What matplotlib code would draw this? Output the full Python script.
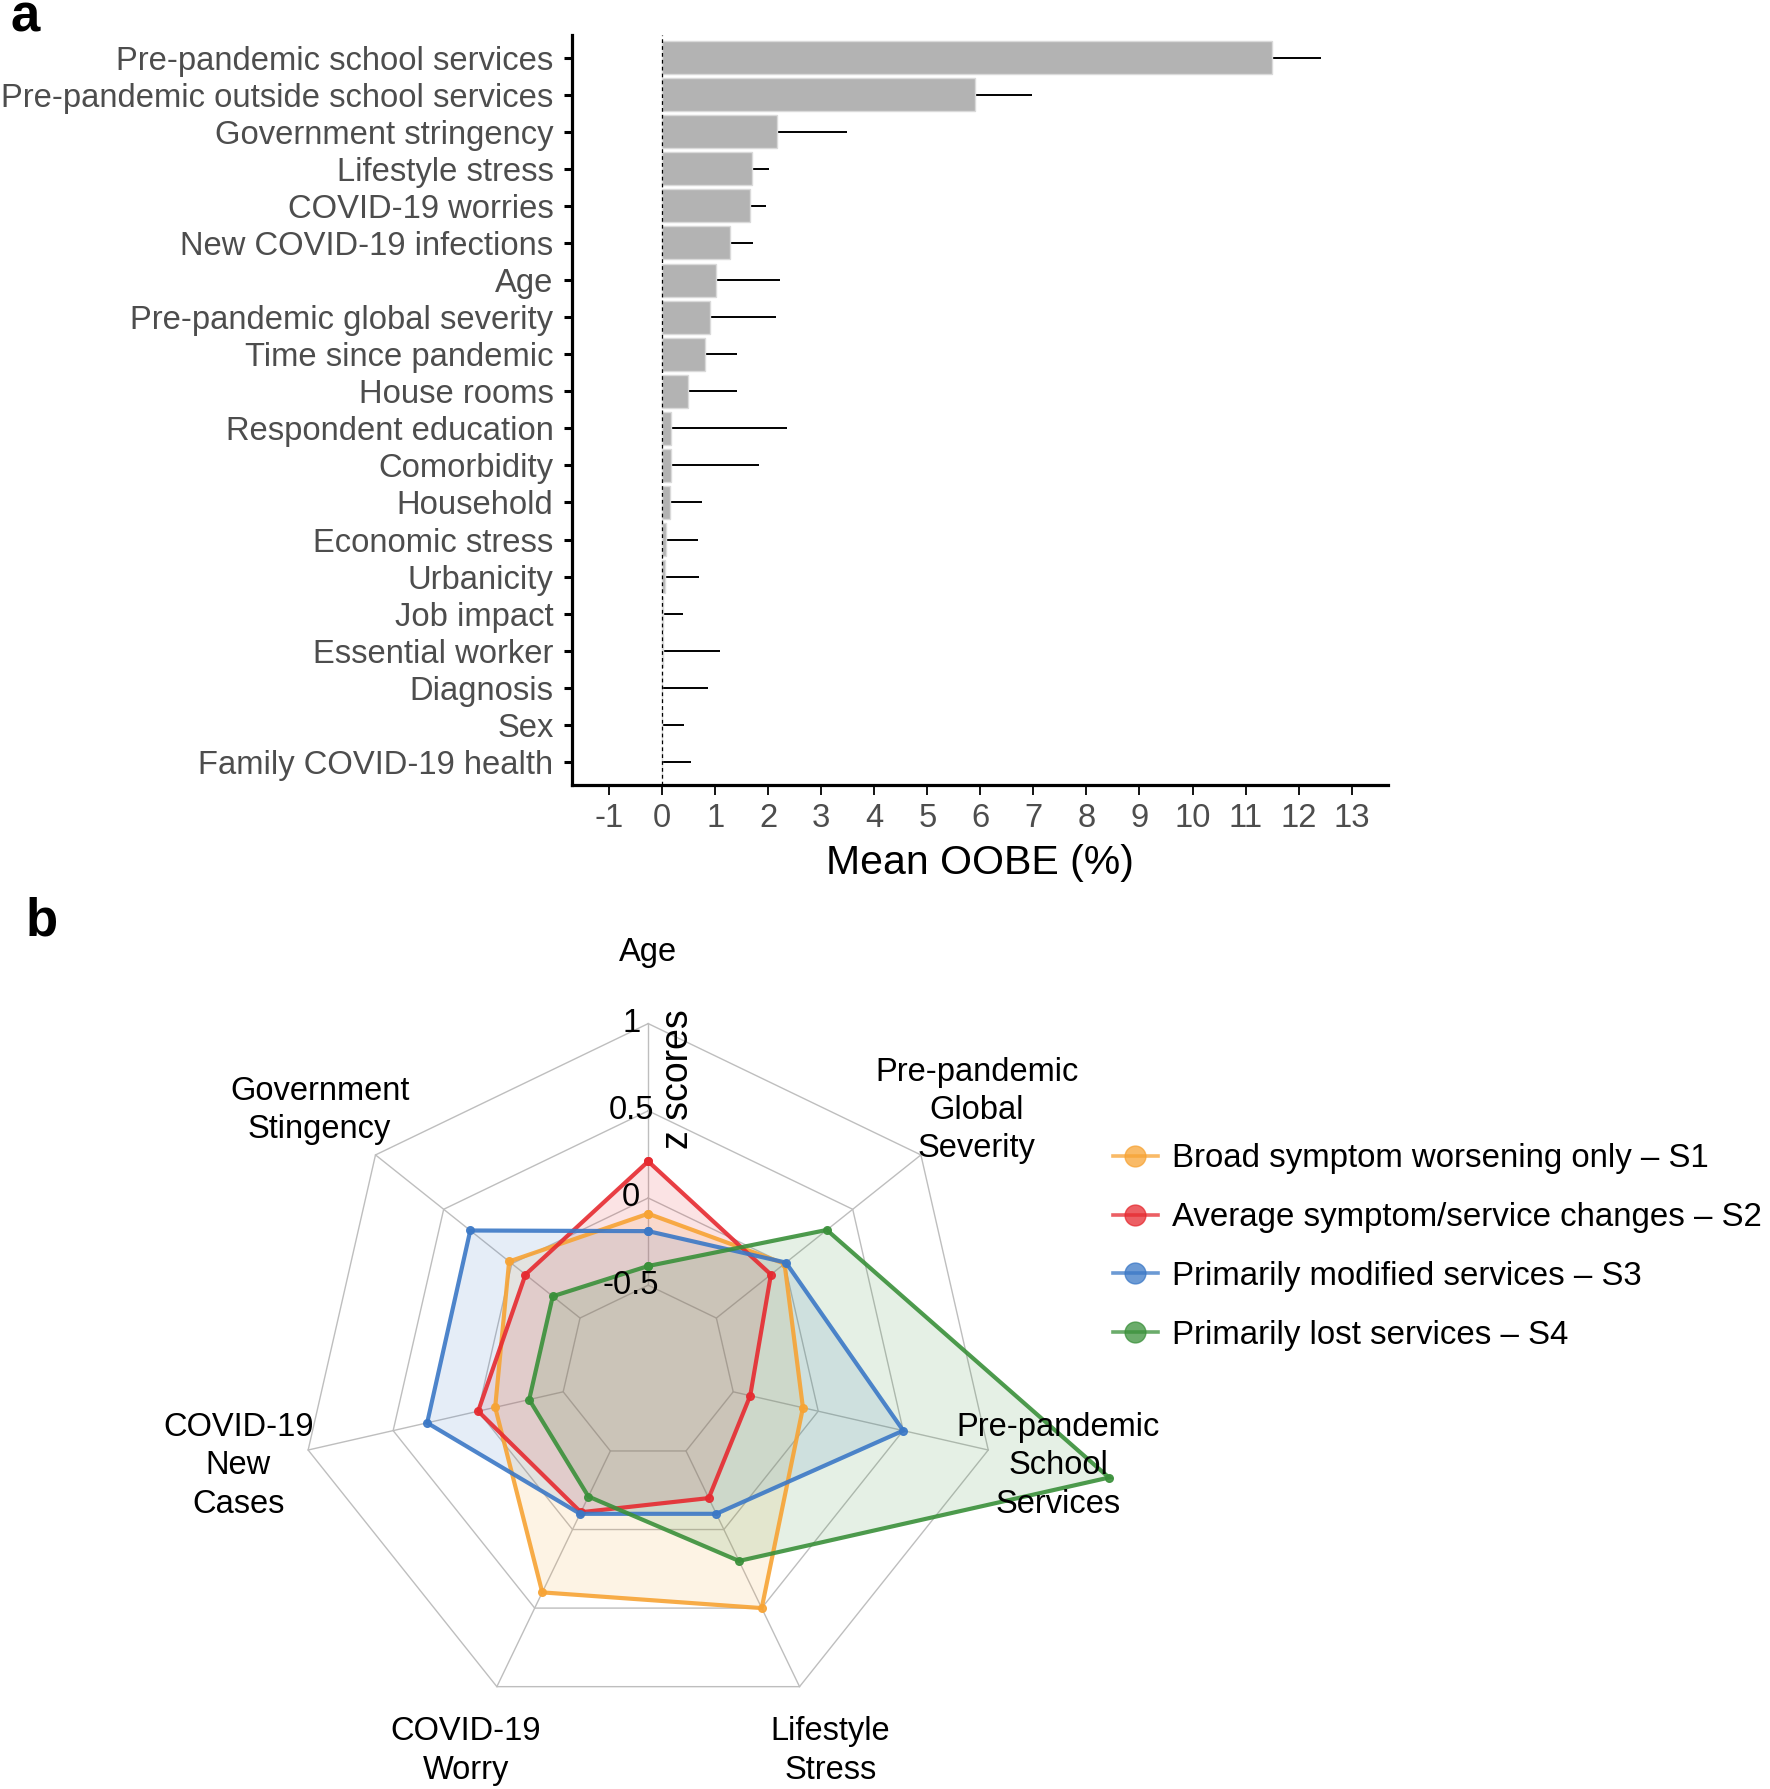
import numpy as np
import matplotlib
matplotlib.use("Agg")
import matplotlib.pyplot as plt
from matplotlib.lines import Line2D
from matplotlib.transforms import offset_copy

plt.rcParams['font.family'] = ['Liberation Sans', 'DejaVu Sans']

# ---------------- Panel a data ----------------
predictors = [
    "Pre-pandemic school services", "Pre-pandemic outside school services",
    "Government stringency", "Lifestyle stress", "COVID-19 worries",
    "New COVID-19 infections", "Age", "Pre-pandemic global severity",
    "Time since pandemic", "House rooms", "Respondent education",
    "Comorbidity", "Household", "Economic stress", "Urbanicity",
    "Job impact", "Essential worker", "Diagnosis", "Sex",
    "Family COVID-19 health",
]
mean_oobe = [11.49, 5.89, 2.16, 1.70, 1.66, 1.27, 1.01, 0.91, 0.80, 0.48,
             0.16, 0.16, 0.15, 0.07, 0.06, 0.02, 0.01, 0.00, 0.00, 0.00]
oobe_err = [0.94, 1.08, 1.32, 0.31, 0.30, 0.45, 1.21, 1.23, 0.61, 0.93,
            2.20, 1.67, 0.60, 0.61, 0.64, 0.37, 1.08, 0.86, 0.41, 0.54]
x_ticks = list(range(-1, 14))

# ---------------- Panel b data ----------------
radar_axes = ["Age", "Pre-pandemic\nGlobal\nSeverity", "Pre-pandemic\nSchool\nServices",
              "Lifestyle\nStress", "COVID-19\nWorry", "COVID-19\nNew\nCases",
              "Government\nStingency"]
s1 = [-0.09, 0.00, -0.09, 0.50, 0.40, -0.10, 0.02]
s2 = [0.21, -0.10, -0.40, -0.20, -0.11, 0.00, -0.10]
s3 = [-0.19, 0.01, 0.50, -0.10, -0.10, 0.30, 0.305]
s4 = [-0.39, 0.31, 1.71, 0.20, -0.21, -0.30, -0.30]
series_names = ["Broad symptom worsening only \u2013 S1",
                "Average symptom/service changes \u2013 S2",
                "Primarily modified services \u2013 S3",
                "Primarily lost services \u2013 S4"]
series_colors = ["#F7A334", "#E62A30", "#3B78C6", "#3A903A"]
ring_levels = [-0.5, 0, 0.5, 1]
ring_labels = ["-0.5", "0", "0.5", "1"]

W, H = 1770, 1789
fig = plt.figure(figsize=(W / 100, H / 100), dpi=100)

# ---------------- Panel a ----------------
ax = fig.add_axes([571.5 / W, 1 - 785 / H, (1387.7 - 571.5) / W, (785 - 35) / H])
ypos = np.arange(len(predictors))
ax.errorbar(mean_oobe, ypos, xerr=[np.zeros(len(oobe_err)), oobe_err], fmt='none',
            ecolor='black', elinewidth=1.4, capsize=0, zorder=2)
ax.barh(ypos, mean_oobe, height=0.89, color='#B3B3B3', edgecolor='#DADADA',
        linewidth=1.0, zorder=3)
ax.axvline(0, color='black', ls=(0, (3, 2.5)), lw=0.9, zorder=4)
ax.set_xlim(-1.71, 13.68)
ax.set_ylim(len(predictors) - 1 + 0.62, -0.61)
ax.set_yticks(ypos)
ax.set_yticklabels(predictors)
ax.set_xticks(x_ticks)
ax.set_xticklabels([str(v) for v in x_ticks])
ax.tick_params(axis='y', length=6, width=2.2, pad=7, labelsize=23.6, labelcolor='#4D4D4D',
               direction='out')
ax.tick_params(axis='x', length=7, width=1.3, pad=6, labelsize=23.6, labelcolor='#4D4D4D',
               direction='out')
for s in ['top', 'right']:
    ax.spines[s].set_visible(False)
for s in ['left', 'bottom']:
    ax.spines[s].set_linewidth(2.3)
    ax.spines[s].set_color('black')
ax.set_xlabel("Mean OOBE (%)", fontsize=29.5, color='black', labelpad=7)

# ---------------- Panel b (radar) ----------------
cx, cy = 648.2, 1372.4
unit = 174.4
rmin, rmax = -1.0, 1.75
rad = (rmax - rmin) * unit
rax = fig.add_axes([(cx - rad) / W, (H - cy - rad) / H, 2 * rad / W, 2 * rad / H],
                   projection='polar')
rax.set_theta_offset(np.pi / 2)
rax.set_theta_direction(-1)
rax.set_ylim(rmin, rmax)
rax.grid(False)
rax.set_xticks([])
rax.set_yticks([])
rax.spines['polar'].set_visible(False)
rax.patch.set_visible(False)

n = len(radar_axes)
theta = np.arange(n) * 2 * np.pi / n
theta_c = np.append(theta, theta[0])
grid_col = '#BEBEBE'
for lv in ring_levels:
    rax.plot(theta_c, [lv] * (n + 1), color=grid_col, lw=1.0, zorder=1)
for t in theta:
    rax.plot([t, t], [ring_levels[0], ring_levels[-1]], color=grid_col, lw=1.0, zorder=1)

for vals, col in zip([s1, s2, s3, s4], series_colors):
    v = np.append(vals, vals[0])
    rax.fill(theta_c, v, color=col, alpha=0.13, zorder=2, lw=0)
for vals, col in zip([s1, s2, s3, s4], series_colors):
    v = np.append(vals, vals[0])
    rax.plot(theta_c, v, color=col, lw=3.0, alpha=0.9, zorder=3,
             marker='o', markersize=5.5, solid_joinstyle='miter')

for t, lab in zip(theta, radar_axes):
    rax.text(t, 1.41, lab, ha='center', va='center', fontsize=23.5, color='black',
             linespacing=1.3, clip_on=False)

tr_lbl = offset_copy(rax.transData, fig=fig, x=-17, y=0, units='dots')
for lv, lab in zip(ring_levels, ring_labels):
    rax.text(0, lv, lab, transform=tr_lbl, ha='center', va='center', fontsize=23.5,
             color='black', clip_on=False)
tr_z = offset_copy(rax.transData, fig=fig, x=30, y=0, units='dots')
rax.text(0, 0.68, "z scores", transform=tr_z, rotation=90, ha='center', va='center',
         fontsize=27, color='black', clip_on=False)

handles = [Line2D([], [], color=c, lw=2.6, marker='o', markersize=15, alpha=0.75)
           for c in series_colors]
fig.legend(handles, series_names, loc='center left',
           bbox_to_anchor=(1113 / W, 1 - 1247 / H), frameon=False, fontsize=23.8,
           handlelength=1.35, handletextpad=0.45, labelspacing=0.84,
           borderpad=0, borderaxespad=0)

# panel letters
fig.text(10 / W, 1 - 32 / H, "a", fontsize=38, fontweight='bold', va='baseline', ha='left')
fig.text(26 / W, 1 - 935 / H, "b", fontsize=38, fontweight='bold', va='baseline', ha='left')

fig.savefig("out.png", dpi=100)
